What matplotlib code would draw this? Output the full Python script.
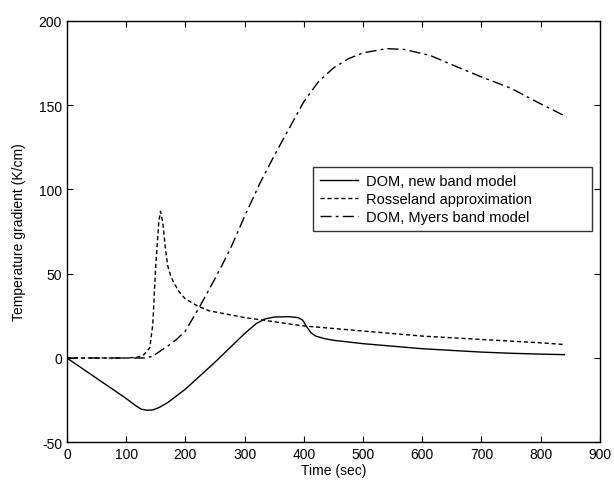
import matplotlib
matplotlib.use("Agg")
import matplotlib.pyplot as plt
import numpy as np

plt.rcParams['font.family'] = ['Liberation Sans', 'DejaVu Sans']
plt.rcParams['axes.unicode_minus'] = False

# DOM, new band model
t_new = [0, 25, 50, 75, 100, 115, 125, 135, 145, 155, 170, 185, 200, 225, 250, 275,
         300, 320, 335, 350, 375, 390, 398, 405, 412, 420, 435, 450, 500, 550, 600,
         650, 700, 750, 800, 840]
g_new = [0, -6, -12, -18, -24, -28, -30.3, -31, -30.8, -29.5, -26.5, -22.5, -18.5,
         -10.5, -2.5, 6, 14.5, 20.5, 23.2, 24.3, 24.5, 24, 22.5, 18.5, 15, 13, 11.5,
         10.5, 8.5, 7, 5.5, 4.5, 3.5, 2.8, 2.3, 2]

# Rosseland approximation
t_ross = [0, 100, 120, 130, 140, 145, 150, 155, 158, 162, 166, 170, 175, 180, 190, 200,
          220, 240, 270, 300, 330, 360, 400, 450, 500, 550, 600, 650, 700, 750, 800, 840]
g_ross = [0, 0, 0.5, 2, 6, 20, 55, 80, 87, 80, 66, 55, 49, 45, 39, 35,
          31, 28, 26, 24, 22.5, 21, 19, 17.5, 16, 14.5, 13, 12, 11, 10, 9, 8]

# DOM, Myers band model
t_myers = [0, 130, 145, 157, 170, 185, 200, 225, 250, 275, 300, 325, 350, 375, 400,
           425, 450, 475, 500, 540, 570, 613, 650, 698, 750, 793, 844]
g_myers = [0, 0, 1, 4, 7, 11, 16, 31, 47, 64, 84, 103, 120, 136, 152,
           164, 172, 177.5, 181, 183.5, 183, 179.5, 174, 167, 160, 152, 143]

labels = ['DOM, new band model', 'Rosseland approximation', 'DOM, Myers band model']

fig = plt.figure(figsize=(6.14, 4.85), dpi=100)
ax = fig.add_axes([0.109, 0.086, 0.868, 0.869])

ax.plot(t_new, g_new, color='black', lw=1.0, ls='-', label=labels[0])
ax.plot(t_ross, g_ross, color='black', lw=1.0, ls=(0, (3, 2)), label=labels[1])
ax.plot(t_myers, g_myers, color='black', lw=1.0, ls=(0, (8, 3, 2, 3)), label=labels[2])

ax.set_xlim(0, 900)
ax.set_ylim(-50, 200)
ax.set_xticks(np.arange(0, 901, 100))
ax.set_yticks(np.arange(-50, 201, 50))
ax.tick_params(direction='in', top=True, right=True, length=4, labelsize=10)
for s in ax.spines.values():
    s.set_linewidth(1.0)

ax.set_xlabel('Time (sec)', fontsize=10, labelpad=1)
ax.set_ylabel('Temperature gradient (K/cm)', fontsize=10, labelpad=9)

leg = ax.legend(loc='upper left', bbox_to_anchor=(0.462, 0.5, 0.523, 0.153),
                mode='expand', fontsize=10.5, frameon=True, fancybox=False,
                edgecolor='black', handlelength=2.6, borderpad=0.45,
                labelspacing=0.3, handletextpad=0.6, borderaxespad=0)
leg.get_frame().set_linewidth(1.0)

fig.savefig('out.png', dpi=100)
